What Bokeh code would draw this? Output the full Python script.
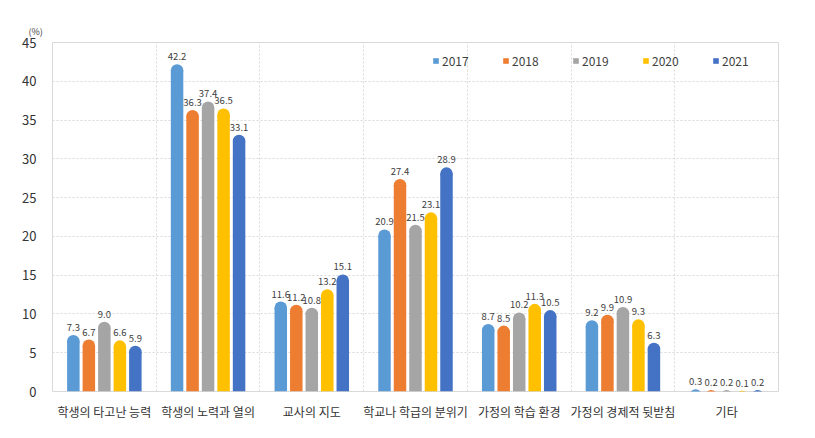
from bokeh.plotting import figure
from bokeh.models import ColumnDataSource, FixedTicker, Legend, LegendItem, Range1d
from bokeh.embed import file_html
from bokeh.resources import INLINE

categories = ["학생의 타고난 능력", "학생의 노력과 열의", "교사의 지도", "학교나 학급의 분위기",
              "가정의 학습 환경", "가정의 경제적 뒷받침", "기타"]
years = ["2017", "2018", "2019", "2020", "2021"]
v2017 = [7.3, 42.2, 11.6, 20.9, 8.7, 9.2, 0.3]
v2018 = [6.7, 36.3, 11.2, 27.4, 8.5, 9.9, 0.2]
v2019 = [9.0, 37.4, 10.8, 21.5, 10.2, 10.9, 0.2]
v2020 = [6.6, 36.5, 13.2, 23.1, 11.3, 9.3, 0.1]
v2021 = [5.9, 33.1, 15.1, 28.9, 10.5, 6.3, 0.2]
series = [v2017, v2018, v2019, v2020, v2021]
y_ticks = [0, 5, 10, 15, 20, 25, 30, 35, 40, 45]
colors = ["#5B9BD5", "#ED7D31", "#A5A5A5", "#FFC000", "#4472C4"]

FONT = "Noto Sans CJK KR"
FRAME_W, FRAME_H = 726, 349
Y_MAX = 45
n = len(categories)
px_per_x = FRAME_W / n
px_per_y = FRAME_H / Y_MAX
bar_px = 12.5
pitch = 15.5 / px_per_x
bar_w = bar_px / px_per_x
r_y = (bar_px / 2) / px_per_y

p = figure(width=799, height=430, frame_width=FRAME_W, frame_height=FRAME_H,
           x_range=Range1d(-0.5, n - 0.5), y_range=Range1d(0, Y_MAX),
           output_backend="svg", toolbar_location=None,
           min_border_left=52, min_border_top=42, min_border_right=21, min_border_bottom=38)
p.outline_line_color = "#d9d9d9"
p.background_fill_color = "white"

p.title.text = "(%)"
p.title.text_font = FONT
p.title.text_font_size = "9px"
p.title.text_font_style = "normal"
p.title.text_color = "#404040"
p.title.align = "left"
p.title.offset = -24
p.title.standoff = 10

legend_items = []
for j, (yr, vals, col) in enumerate(zip(years, series, colors)):
    xs = [i + (j - 2) * pitch for i in range(n)]
    tops = [max(v - r_y, 0) for v in vals]
    centers = [v - r_y for v in vals]
    src = ColumnDataSource(dict(x=xs, top=tops, cy=centers, v=vals,
                                lab=[f"{v:.1f}" for v in vals]))
    r = p.vbar(x="x", top="top", bottom=0, width=bar_w, source=src,
               fill_color=col, line_color=None)
    p.scatter(x="x", y="cy", size=bar_px, marker="circle", source=src,
              fill_color=col, line_color=None)
    p.text(x="x", y="v", text="lab", source=src, text_align="center",
           text_baseline="bottom", y_offset=-4, text_font_size="9.5px",
           text_color="#404040", text_font={"value": FONT})
    legend_items.append(LegendItem(label=yr, renderers=[r]))

legend = Legend(items=legend_items, orientation="horizontal", location="top_right",
                glyph_width=7, glyph_height=7, label_standoff=3, spacing=14,
                label_width=46,
                label_text_font_size="12px", label_text_font=FONT,
                label_text_color="#404040", border_line_color=None,
                background_fill_alpha=0, margin=10, padding=6)
p.add_layout(legend)

p.xaxis.ticker = FixedTicker(ticks=list(range(n)))
p.xaxis.major_label_overrides = {i: c for i, c in enumerate(categories)}
p.xaxis.major_label_text_font = FONT
p.xaxis.major_label_text_font_size = "12px"
p.xaxis.major_label_text_color = "#333333"
p.xaxis.axis_line_color = None
p.xaxis.major_tick_line_color = None
p.xaxis.minor_tick_line_color = None
p.xaxis.major_label_standoff = 5

p.yaxis.ticker = FixedTicker(ticks=y_ticks)
p.yaxis.major_label_text_font = FONT
p.yaxis.major_label_text_font_size = "13px"
p.yaxis.major_label_text_color = "#333333"
p.yaxis.axis_line_color = None
p.yaxis.major_tick_line_color = None
p.yaxis.minor_tick_line_color = None
p.yaxis.major_label_standoff = 10

p.xgrid.ticker = FixedTicker(ticks=[i + 0.5 for i in range(n - 1)])
p.xgrid.grid_line_color = "#d9d9d9"
p.xgrid.grid_line_dash = "2 2"
p.ygrid.ticker = FixedTicker(ticks=y_ticks[1:-1])
p.ygrid.grid_line_color = "#d9d9d9"
p.ygrid.grid_line_dash = "2 2"

open("out.html", "w").write(file_html(p, INLINE))
